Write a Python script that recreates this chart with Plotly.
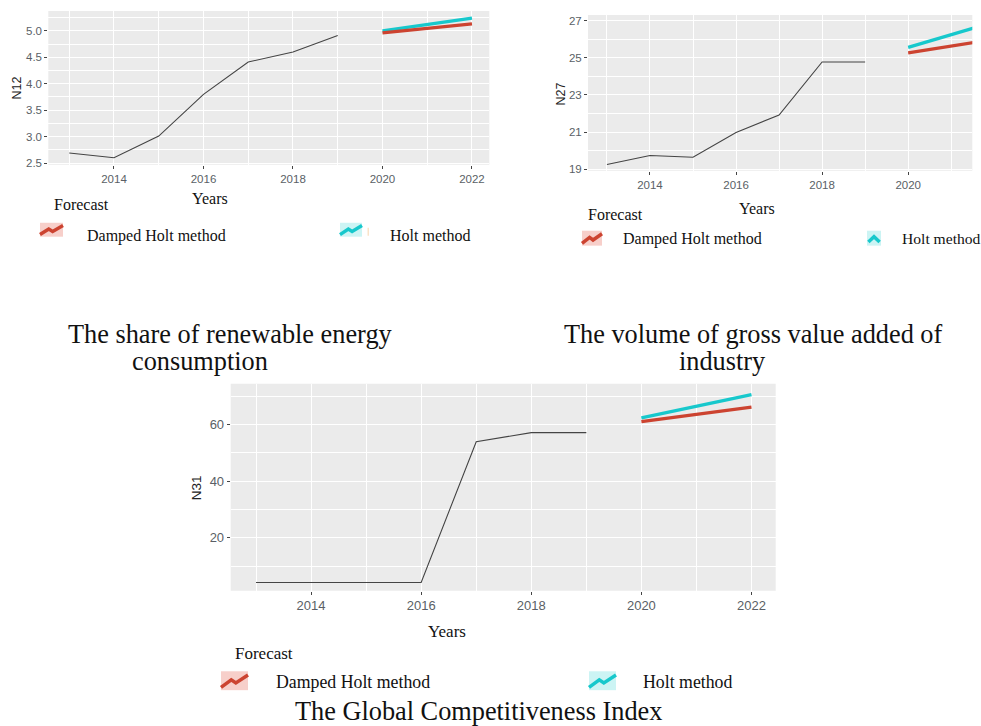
import plotly.graph_objects as go

W, H = 981, 726

# ---------------- data ----------------
years_hist = [2013, 2014, 2015, 2016, 2017, 2018, 2019]
years_fc = [2020, 2021, 2022]

n12_hist = [2.69, 2.60, 3.01, 3.80, 4.41, 4.60, 4.91]
n12_holt = [5.00, 5.12, 5.24]
n12_damped = [4.96, 5.05, 5.13]

n27_hist = [19.25, 19.73, 19.64, 20.97, 21.92, 24.78, 24.78]
n27_holt = [25.57, 26.25, 26.94]
n27_damped = [25.27, 25.65, 26.00]

n31_hist = [4.2, 4.2, 4.2, 4.2, 53.9, 57.1, 57.1]
n31_holt = [62.3, 66.4, 70.5]
n31_damped = [61.0, 63.6, 66.1]

x_ticks = [2014, 2016, 2018, 2020, 2022]
n12_yticks = [2.5, 3.0, 3.5, 4.0, 4.5, 5.0]
n27_yticks = [19, 21, 23, 25, 27]
n31_yticks = [20, 40, 60]

legend_labels = ["Damped Holt method", "Holt method"]
legend_title = "Forecast"
x_title = "Years"
titles = ["The share of renewable energy", "consumption",
          "The volume of gross value added of", "industry",
          "The Global Competitiveness Index"]

# ---------------- style ----------------
RED = "#CC4330"
CYAN = "#17C8CC"
RED_BG = "#F7CFCA"
CYAN_BG = "#CCF4F4"
HIST = "#444444"
PANEL = "#EBEBEB"
TICK = "#5A5F66"
SERIF = "Liberation Serif"
SANS = "Liberation Sans"


def px(x):
    return x / W


def py(y):
    return 1 - y / H


fig = go.Figure()

panels = [
    dict(hist=n12_hist, holt=n12_holt, damped=n12_damped, yt=n12_yticks, fmt=".1f",
         box=(48.3, 11, 489.3, 165.7), xr=[2012.532, 2022.387], yr=[2.468, 5.376],
         fs=11.5, mdy=0.25, ylab="N12", ylab_xy=(17, 89), ylab_fs=12.5),
    dict(hist=n27_hist, holt=n27_holt, damped=n27_damped, yt=n27_yticks, fmt="d",
         box=(588, 15, 972.3, 171.7), xr=[2012.56, 2021.49], yr=[18.91, 27.32],
         fs=11.5, mdy=1, ylab="N27", ylab_xy=(561, 95), ylab_fs=12.5),
    dict(hist=n31_hist, holt=n31_holt, damped=n31_damped, yt=n31_yticks, fmt="d",
         box=(230.7, 386, 775.7, 594), xr=[2012.54, 2022.44], yr=[1.3, 74.3],
         fs=13, mdy=10, ylab="N31", ylab_xy=(196, 491), ylab_fs=13.5),
]

layout_axes = {}
for i, p in enumerate(panels):
    k = "" if i == 0 else str(i + 1)
    xa, ya = "x" + k, "y" + k
    fig.add_trace(go.Scatter(x=years_hist, y=p["hist"], mode="lines",
                             line=dict(color=HIST, width=1.1), xaxis=xa, yaxis=ya,
                             showlegend=False))
    fig.add_trace(go.Scatter(x=years_fc, y=p["holt"], mode="lines",
                             line=dict(color=CYAN, width=3.2), xaxis=xa, yaxis=ya,
                             showlegend=False))
    fig.add_trace(go.Scatter(x=years_fc, y=p["damped"], mode="lines",
                             line=dict(color=RED, width=3.2), xaxis=xa, yaxis=ya,
                             showlegend=False))
    x0, y0, x1, y1 = p["box"]
    common = dict(showline=False, zeroline=False, ticks="outside", ticklen=3,
                  tickcolor="#444444", tickwidth=1, showgrid=True,
                  gridcolor="white", gridwidth=1.1,
                  tickfont=dict(family=SANS, size=p["fs"], color=TICK))
    layout_axes["xaxis" + k] = dict(common, domain=[px(x0), px(x1)], range=p["xr"],
                                    tickvals=x_ticks, anchor=ya,
                                    minor=dict(dtick=1, tick0=2013, showgrid=True,
                                               gridcolor="white", gridwidth=0.5, ticks=""))
    layout_axes["yaxis" + k] = dict(common, domain=[py(y1), py(y0)], range=p["yr"],
                                    tickvals=p["yt"], tickformat=p["fmt"], anchor=xa,
                                    minor=dict(dtick=p["mdy"], tick0=0, showgrid=True,
                                               gridcolor="white", gridwidth=0.5, ticks=""))
    fig.add_shape(type="rect", xref="paper", yref="paper", layer="below",
                  x0=px(x0), x1=px(x1), y0=py(y1), y1=py(y0),
                  fillcolor=PANEL, line=dict(width=0))
    fig.add_annotation(x=px(p["ylab_xy"][0]), y=py(p["ylab_xy"][1]), xref="paper", yref="paper",
                       text=p["ylab"], textangle=-90, showarrow=False,
                       font=dict(family=SANS, size=p["ylab_fs"], color="#222222"),
                       xanchor="center", yanchor="middle")

fig.update_layout(**layout_axes)


def text(x, y, s, size, anchor="center"):
    fig.add_annotation(x=px(x), y=py(y), xref="paper", yref="paper", text=s,
                       showarrow=False, font=dict(family=SERIF, size=size, color="#111111"),
                       xanchor=anchor, yanchor="middle")


def icon(x0, y0, x1, y1, color, bg, caret=False):
    fig.add_shape(type="rect", xref="paper", yref="paper",
                  x0=px(x0), x1=px(x1), y0=py(y1), y1=py(y0),
                  fillcolor=bg, line=dict(width=0))
    w, h = x1 - x0, y1 - y0
    if caret:
        pts = [(0.1, 0.75), (0.5, 0.4), (0.9, 0.75)]
    else:
        pts = [(0.0, 0.85), (0.38, 0.45), (0.55, 0.62), (1.0, 0.2)]
    path = "M " + " L ".join(f"{px(x0 + a * w):.5f},{py(y0 + b * h):.5f}" for a, b in pts)
    fig.add_shape(type="path", xref="paper", yref="paper", path=path,
                  line=dict(color=color, width=3.5))


# chart 1 texts
text(210, 200, x_title, 16)
text(52, 206, legend_title, 16, "left")
icon(40, 224, 63, 238, RED, RED_BG)
text(85, 237, legend_labels[0], 16, "left")
icon(340, 224, 362, 238, CYAN, CYAN_BG)
fig.add_shape(type="rect", xref="paper", yref="paper", x0=px(367.5), x1=px(369),
              y0=py(237), y1=py(229), fillcolor="#FBE3C8", line=dict(width=0))
text(388, 237, legend_labels[1], 16, "left")

# chart 2 texts
text(757, 210, x_title, 16)
text(586, 216, legend_title, 16, "left")
icon(582, 232, 602, 247, RED, RED_BG)
text(621, 240, legend_labels[0], 16, "left")
icon(867, 232, 881, 247, CYAN, CYAN_BG, caret=True)
text(900, 240, legend_labels[1], 15.6, "left")

# chart 3 texts
text(447, 635, x_title, 17)
text(233, 657, legend_title, 17, "left")
icon(221, 675, 248, 694, RED, RED_BG)
text(274, 686, legend_labels[0], 17.8, "left")
icon(589, 675, 616, 694, CYAN, CYAN_BG)
text(641, 686, legend_labels[1], 17.8, "left")

# titles
text(230.5, 336, titles[0], 26.3)
text(200, 364, titles[1], 26.3)
text(753, 336, titles[2], 26.3)
text(722, 364, titles[3], 26.3)
text(478, 715, titles[4], 26.3)

fig.update_layout(width=W, height=H, margin=dict(l=0, r=0, t=0, b=0),
                  paper_bgcolor="white", plot_bgcolor="rgba(0,0,0,0)",
                  showlegend=False)

fig.write_html("out.html", config={"displayModeBar": False},
               post_script="document.body.style.margin='0';document.body.style.overflow='hidden';")
